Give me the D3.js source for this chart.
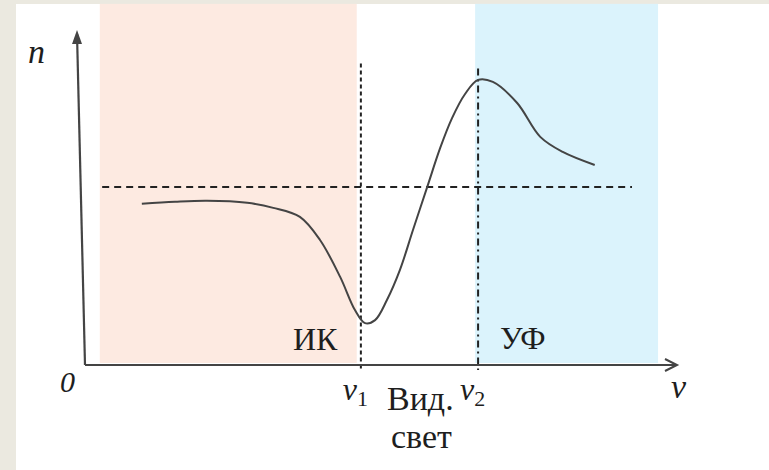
<!DOCTYPE html>
<html>
<head>
<meta charset="utf-8">
<script src="https://cdn.jsdelivr.net/npm/d3@7"></script>
<style>
  body { margin: 0; background: #ebe9e0; }
  svg { display: block; }
  svg text { font-family: "Liberation Serif", serif; }
</style>
</head>
<body>
<svg width="769" height="470"></svg>
<script>
// frequency nu (arbitrary units) and refractive index n (arbitrary units)
const nuValues = [9.6, 15.2, 20.6, 27.4, 31.8, 36.3, 39.7, 43.1, 45.6, 47.3, 49.0, 51.0, 53.2, 55.4, 57.8, 60.0, 62.0, 64.2, 66.4, 68.9, 73.0, 76.9, 80.7, 86.1];
const nValues  = [48.1, 48.7, 49.0, 48.4, 46.9, 44.2, 37.3, 26.3, 16.4, 12.5, 13.4, 19.4, 28.4, 40.3, 53.1, 64.8, 73.7, 80.9, 85.1, 84.5, 78.2, 68.1, 63.6, 59.7];

const nu1 = 46.6, nu2 = 66.4;
const nLevel = 53.1;
const levelRange = [2.9, 92.4];

const bandNames = ["ИК", "УФ"];
const bandFrom = [2.5, 65.9];
const bandTo = [45.9, 96.8];
const bandColors = ["#fdeae1", "#dbf3fc"];
const bandTop = 107.8;

const svg = d3.select("svg");
const width = +svg.attr("width");
const height = +svg.attr("height");

const x = d3.scaleLinear().domain([0, 100]).range([85, 677]);
const y = d3.scaleLinear().domain([0, 100]).range([365, 30]);

// white slide area
svg.append("rect")
    .attr("x", 16).attr("y", 4)
    .attr("width", width - 16).attr("height", height - 4)
    .attr("fill", "#fff");

// spectral bands
bandNames.forEach((name, i) => {
    svg.append("rect")
        .attr("x", x(bandFrom[i]))
        .attr("y", y(bandTop))
        .attr("width", x(bandTo[i]) - x(bandFrom[i]))
        .attr("height", y(0.6) - y(bandTop))
        .attr("fill", bandColors[i]);
});

// dashed guides
const dashColor = "#222";
svg.append("line")
    .attr("x1", x(levelRange[0])).attr("x2", x(levelRange[1]))
    .attr("y1", y(nLevel)).attr("y2", y(nLevel))
    .attr("stroke", dashColor).attr("stroke-width", 2)
    .attr("stroke-dasharray", "7,5");

svg.append("line")
    .attr("x1", x(nu1)).attr("x2", x(nu1))
    .attr("y1", y(90)).attr("y2", y(-1.5))
    .attr("stroke", dashColor).attr("stroke-width", 2)
    .attr("stroke-dasharray", "4,3");

svg.append("line")
    .attr("x1", x(nu2)).attr("x2", x(nu2))
    .attr("y1", y(88.5)).attr("y2", y(-1.5))
    .attr("stroke", dashColor).attr("stroke-width", 2)
    .attr("stroke-dasharray", "7,4,2,4");

// axes
const axisColor = "#444";
svg.append("line")
    .attr("x1", x(0)).attr("y1", y(0))
    .attr("x2", x(100)).attr("y2", y(0))
    .attr("stroke", axisColor).attr("stroke-width", 2.2);
svg.append("path")
    .attr("d", `M${x(100) - 12},${y(0) - 6} L${x(100)},${y(0)} L${x(100) - 12},${y(0) + 6}`)
    .attr("fill", "none").attr("stroke", axisColor).attr("stroke-width", 2);

const topX = x(-1.35), topY = y(100);
svg.append("line")
    .attr("x1", x(0)).attr("y1", y(0))
    .attr("x2", topX).attr("y2", topY + 4)
    .attr("stroke", axisColor).attr("stroke-width", 2.2);
svg.append("path")
    .attr("d", `M${topX},${topY} L${topX - 5},${topY + 14} L${topX + 5},${topY + 14} Z`)
    .attr("fill", axisColor);

// curve n(nu)
const pts = nuValues.map((v, i) => [v, nValues[i]]);
svg.append("path")
    .datum(pts)
    .attr("fill", "none")
    .attr("stroke", "#444")
    .attr("stroke-width", 2)
    .attr("d", d3.line().x(d => x(d[0])).y(d => y(d[1])).curve(d3.curveCatmullRom.alpha(0.5)));

// labels
function label(px, py, str, size, italic) {
    return svg.append("text")
        .attr("x", px).attr("y", py)
        .style("font-size", size + "px")
        .style("font-style", italic ? "italic" : "normal")
        .attr("fill", "#1e1e1e")
        .text(str);
}

label(28, 63, "n", 34, true);
label(60, 392, "0", 30, true);
label(671, 398, "ν", 34, true);

[[nu1, "1"], [nu2, "2"]].forEach(([v, s]) => {
    const t = svg.append("text").attr("x", x(v) - 18).attr("y", 400)
        .attr("fill", "#1e1e1e");
    t.append("tspan").style("font-style", "italic").style("font-size", "32px").text("ν");
    t.append("tspan").style("font-size", "22px").attr("dy", 6).text(s);
});

label(387, 410, "Вид.", 34, false);
label(391, 448, "свет", 34, false);

label(293, 350, bandNames[0], 32, false);
label(500, 349, bandNames[1], 32, false);
</script>
</body>
</html>
